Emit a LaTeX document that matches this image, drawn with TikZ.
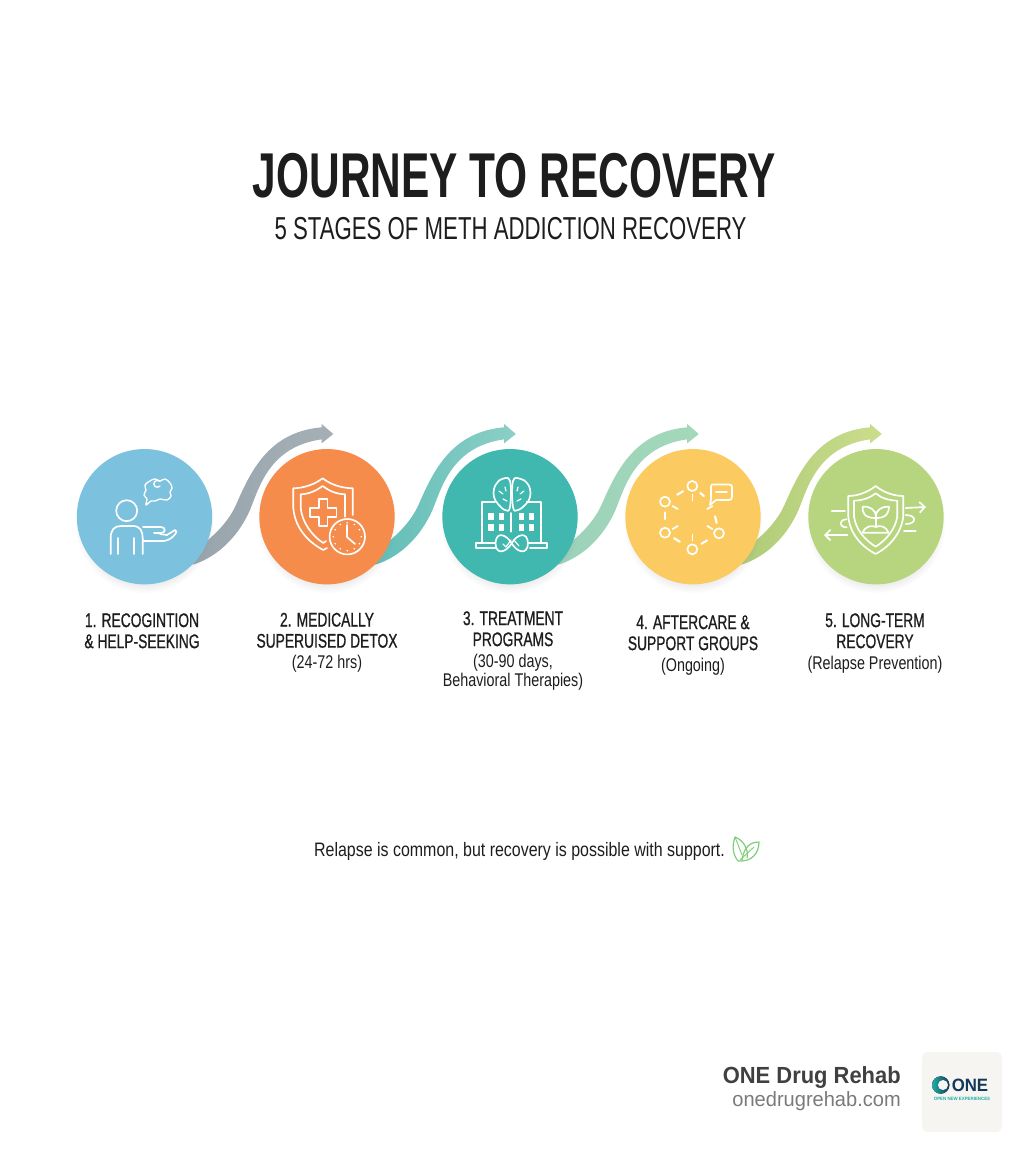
\documentclass[tikz,border=0pt]{standalone}
\usepackage{fontspec}
\setmainfont{Liberation Sans}
\newfontfamily\condfont[FakeStretch=0.70]{Liberation Sans}
\newfontfamily\condbold[FakeStretch=0.70,FakeBold=0.8]{Liberation Sans}
\newfontfamily\subfont[FakeStretch=0.78]{Liberation Sans}
\newfontfamily\notefont[FakeStretch=0.82]{Liberation Sans}
\newfontfamily\titlefont[FakeStretch=0.67]{Liberation Sans Bold}
\newfontfamily\brandfont[FakeStretch=0.94]{Liberation Sans Bold}
\newfontfamily\sitefont[FakeStretch=0.97]{Liberation Sans}
\usetikzlibrary{shadows,arrows.meta,backgrounds}
\definecolor{inktext}{HTML}{1D1D1D}
\definecolor{skyblue}{HTML}{7CC1DE}
\definecolor{orangefill}{HTML}{F58C4C}
\definecolor{tealfill}{HTML}{40B8AF}
\definecolor{yellowfill}{HTML}{FBCB62}
\definecolor{greenfill}{HTML}{B7D57F}
\definecolor{leafgreen}{HTML}{7FCF78}
\definecolor{logonavy}{HTML}{12395B}
\definecolor{logoteal}{HTML}{1FAFA6}
\definecolor{logobox}{HTML}{F6F5F1}
\tikzset{
  stagecirc/.style={circle,minimum size=101.5pt,inner sep=0pt,fill=#1,
    circular drop shadow={shadow xshift=0pt,shadow yshift=-5pt,shadow scale=1.03,opacity=.18,fill=black!45}},
  stagelabel/.style={align=center,font=\condbold\fontsize{14.8}{15.8}\selectfont,text=inktext,inner sep=0pt,anchor=north},
  iconline/.style={draw=white,line width=1.25pt,line join=round,line cap=round},
  leafline/.style={draw=leafgreen,line width=.9pt,line join=round},
}
\newcommand{\subtxt}[1]{{\subfont\fontsize{13.8}{15.4}\selectfont #1}}
\begin{document}
\begin{tikzpicture}[x=0.75pt,y=-0.75pt]
  \useasboundingbox (0,0) rectangle (1024,1154);
  % title
  \node[text=inktext,font=\titlefont\fontsize{47.5}{48}\selectfont] (title) at (514.5,175.5) {JOURNEY TO RECOVERY};
  \node[text=inktext,font=\condfont\fontsize{23.8}{24}\selectfont] (subtitle) at (510.5,229) {5 STAGES OF METH ADDICTION RECOVERY};
  % circles
  \node[stagecirc=skyblue] (circA) at (144.5,516.7) {};
  \node[stagecirc=orangefill] (circB) at (327,516.7) {};
  \node[stagecirc=tealfill] (circC) at (510,516.7) {};
  \node[stagecirc=yellowfill] (circD) at (693,516.7) {};
  \node[stagecirc=greenfill] (circE) at (876,516.7) {};
  % ribbons, behind the circles
  \begin{scope}[on background layer]
  \foreach \src/\lcol/\rcol in {circA/98A5AD/A5AFB6,circB/62BEB8/8CCFC6,circC/9CD2BB/A3D8B8,circD/AFCC78/CBDD8C}{
    \definecolor{lc}{HTML}{\lcol}\definecolor{rc}{HTML}{\rcol}
    \path[left color=lc,right color=rc,shift={(\src)}] (\src.-45)
      .. controls (65,43) and (90,28) .. (105.5,-6.7)
      .. controls (115,-30) and (125,-70) .. (177.2,-77.4)
      -- (177.2,-73.4) -- (188.8,-82.7) -- (177.2,-92.7) -- (177.2,-89.4)
      .. controls (127,-85) and (108,-50) .. (92.2,-13.4)
      .. controls (86,1) and (75,15) .. (55,30) -- cycle;
  }
  \end{scope}
  % icon 1: person and thought
  \draw[iconline] (126.7,510.7) circle (10.5);
  \draw[iconline] (110.7,554) -- (110.7,538) .. controls (110.7,530) and (114,526) .. (121,526) -- (133,526)
    .. controls (140,526) and (142.7,531) .. (142.7,538) -- (142.7,554);
  \draw[iconline] (118.3,538) -- (118.3,554) (134,538) -- (134,554);
  \draw[iconline] (143,527) -- (161,527) .. controls (166,527) and (166,533) .. (161,533) -- (154,533);
  \draw[iconline] (160,534) -- (167,535) -- (175,530) .. controls (177,530) and (177,533) .. (175,534.5)
    .. controls (171,539) and (167,541) .. (163,541) -- (143,541);
  \draw[iconline,line width=1pt] plot[smooth cycle,tension=.7] coordinates {(150,481) (155,479) (160,481) (165,479) (170,483) (172,488) (170,492) (171,496) (167,500) (160,499) (155,501) (151,501) (146,505) (147,499) (144,495) (146,490) (145,485)};
  \draw[iconline,line width=1pt] (160,486) arc (40:320:3.5);
  % icon 2: shield and clock
  \draw[iconline] (352.7,515) -- (352.7,488.3) .. controls (340,488) and (330,484) .. (322.7,478.3)
    .. controls (315,484) and (305,488) .. (293.3,488.3) -- (293.3,508)
    .. controls (295,528) and (308,542) .. (323.3,550) -- (327,548);
  \draw[iconline] (345,516.7) -- (345,494.3) .. controls (335,494) and (328,490) .. (322.7,486)
    .. controls (317,490) and (310,494) .. (300.7,494.3) -- (300.7,508)
    .. controls (302,522) and (312,536) .. (323.3,543) -- (326,541);
  \draw[iconline] (319,499) -- (327.5,499) -- (327.5,508) -- (336.5,508) -- (336.5,517) -- (327.5,517) -- (327.5,526)
    -- (319,526) -- (319,517) -- (310,517) -- (310,508) -- (319,508) -- cycle;
  \draw[iconline,fill=orangefill] (347.3,536.7) circle (17.7);
  \foreach \ang in {0,30,...,330}{
    \fill[white] (347.3,536.7) ++(\ang:14) circle (0.9);
  }
  \draw[iconline] (347,525) -- (347,537) -- (355,544);
  % icon 3: brain over building
  \draw[iconline] (495,501.7) -- (481.7,501.7) -- (481.7,542.7) (526.7,501.7) -- (540.7,501.7) -- (540.7,542.7);
  \draw[iconline] (498,542.7) -- (476,542.7) -- (476,548.3) -- (497,548.3);
  \draw[iconline] (527,542.7) -- (546.7,542.7) -- (546.7,548.3) -- (530,548.3);
  \foreach \wx in {491,501.7,521.7,531.7}{
    \foreach \wy in {516.7,527.7}{
      \fill[white] (\wx-2.7,\wy-3.7) rectangle (\wx+2.7,\wy+3.7);
    }
  }
  \draw[iconline] (510.7,513) -- (510.7,531.7);
  \draw[iconline] plot[smooth cycle,tension=.7] coordinates {(510,481) (502,479) (497,483) (494,489) (494,497) (498,504) (505,510) (510,507)};
  \draw[iconline] plot[smooth cycle,tension=.7] coordinates {(513,481) (521,479) (527,483) (530,489) (530,497) (526,504) (518,510) (513,507)};
  \draw[iconline,line width=.9pt] (499,491) -- (503,494) (505,487) -- (506,491) (503,499) -- (507,501) (524,491) -- (520,494) (518,487) -- (517,491) (521,499) -- (517,501);
  \draw[iconline,fill=tealfill] (511.7,543.3) .. controls (506,534) and (496,531) .. (495.5,543.3)
    .. controls (496,555.5) and (506,552.5) .. (511.7,543.3)
    .. controls (517,534) and (527.5,531) .. (528,543.3)
    .. controls (527.5,555.5) and (517,552.5) .. (511.7,543.3) -- cycle;
  \draw[iconline,line width=.9pt] (503,544) -- (506,547) -- (511,540) (514,540) -- (519,546);
  % icon 4: support ring
  \foreach \nx/\ny/\mx/\my in {692.3/486/665/501.7,665/501.7/665/532.7,665/532.7/692.3/549.3,692.3/549.3/719/533.3,719/533.3/712/503,712/503/692.3/486}{
    \draw[iconline,line width=1.6pt,dash pattern=on 5pt off 4pt,shorten >=8pt,shorten <=8pt] (\nx,\ny) -- (\mx,\my);
  }
  \foreach \ang in {30,90,...,330}{
    \draw[iconline,line width=1.3pt] (692.5,517.5) ++(\ang:17) -- ++(\ang:6);
  }
  \foreach \nx/\ny in {692.3/486,665/501.7,665/532.7,692.3/549.3,719/533.3}{
    \draw[iconline] (\nx,\ny) circle (5);
  }
  \draw[iconline] (711,486.5) .. controls (711,485) and (712,484.5) .. (713,484.5) -- (729,484.5)
    .. controls (731,484.5) and (732,485.5) .. (732,487) -- (732,497) .. controls (732,499) and (731,500) .. (729,500)
    -- (716,500) -- (710,505) -- (711,499) -- cycle;
  \draw[iconline] (716,492) -- (727,492);
  % icon 5: shield and sprout
  \draw[iconline] (875.7,486) .. controls (868,492) and (858,496) .. (848.3,496) -- (848.3,516.7)
    .. controls (850,534) and (862,547) .. (875.7,554) .. controls (889,547) and (901,534) .. (903.3,516.7)
    -- (903.3,496) .. controls (893,496) and (883,492) .. (875.7,486) -- cycle;
  \draw[iconline] (875.7,493.3) .. controls (870,498) and (862,500.5) .. (854,500.7) -- (854,516.7)
    .. controls (856,530) and (865,540) .. (875.7,546.7) .. controls (886,540) and (895,530) .. (897.3,516.7)
    -- (897.3,500.7) .. controls (889,500.5) and (881,498) .. (875.7,493.3) -- cycle;
  \draw[iconline] (875.7,526) -- (875.7,512);
  \draw[iconline] (875,518) .. controls (864,518) and (862,512) .. (862.7,506.7) .. controls (870,506) and (875,510) .. (875.7,515);
  \draw[iconline] (876.5,518) .. controls (887,518) and (889,512) .. (889,506.7) .. controls (882,506) and (877,510) .. (875.7,515);
  \draw[iconline] (862.7,532.7) .. controls (865,526) and (872,525) .. (875.7,527) .. controls (880,525) and (886,526) .. (888.3,532.7) -- cycle;
  \draw[iconline] (831.7,511) -- (845,511);
  \draw[iconline] (846.7,519.3) .. controls (839,519.3) and (838,527.3) .. (846.7,527.3);
  \draw[iconline,-{Straight Barb[length=4pt,width=8pt]}] (847.3,535) -- (824,535);
  \draw[iconline,-{Straight Barb[length=4pt,width=8pt]}] (905.7,508) -- (926,507);
  \draw[iconline] (905.7,515) .. controls (917,515) and (917,524) .. (905.7,524);
  \draw[iconline] (904,531) -- (915.7,531);
  % labels
  \node[stagelabel] (lblA) at (142,613) {1. RECOGINTION\\\& HELP-SEEKING};
  \node[stagelabel] (lblB) at (327,612.5) {2. MEDICALLY\\SUPERUISED DETOX\\\subtxt{(24-72 hrs)}};
  \node[stagelabel] (lblC) at (513,611) {3. TREATMENT\\PROGRAMS\\\subtxt{(30-90 days,}\\[-1.5pt]\subtxt{Behavioral Therapies)}};
  \node[stagelabel] (lblD) at (693,615) {4. AFTERCARE \&\\SUPPORT GROUPS\\\subtxt{(Ongoing)}};
  \node[stagelabel] (lblE) at (875,613) {5. LONG-TERM\\RECOVERY\\\subtxt{(Relapse Prevention)}};
  % note and leaf
  \node[text=inktext,font=\notefont\fontsize{14.6}{15}\selectfont] (note) at (519.5,851) {Relapse is common, but recovery is possible with support.};
  \draw[leafline] (738,861) .. controls (731,852) and (733,843) .. (735,837) .. controls (743,840) and (749,849) .. (747,858);
  \draw[leafline] (738,861) .. controls (752,862) and (759,853) .. (759,842) .. controls (750,842) and (744,847) .. (742,860);
  \draw[leafline,line width=.7pt] (735,837) -- (742,855) (754,847) -- (740,860);
  % footer
  \node[anchor=east,inner sep=0pt,text=black!75,font=\brandfont\fontsize{17.5}{18}\selectfont] (brand) at (901,1078) {ONE Drug Rehab};
  \node[anchor=east,inner sep=0pt,text=black!52,font=\sitefont\fontsize{15.5}{16}\selectfont] (site) at (901,1101) {onedrugrehab.com};
  \node[fill=logobox,rounded corners=4pt,minimum size=60pt,inner sep=0pt] (logobg) at (962,1092) {};
  \fill[left color=logoteal,right color=logonavy] (940.7,1085) circle (8.7);
  \fill[logobox] (943,1085) circle (5);
  \node[anchor=west,inner sep=0pt,text=logonavy,font=\brandfont\fontsize{13.4}{14}\selectfont] (logotxt) at (951.5,1085) {ONE};
  \node[inner sep=0pt,text=logoteal,font=\brandfont\fontsize{3.5}{4}\selectfont] (logosub) at (962,1099) {OPEN NEW EXPERIENCES};
\end{tikzpicture}
\end{document}
